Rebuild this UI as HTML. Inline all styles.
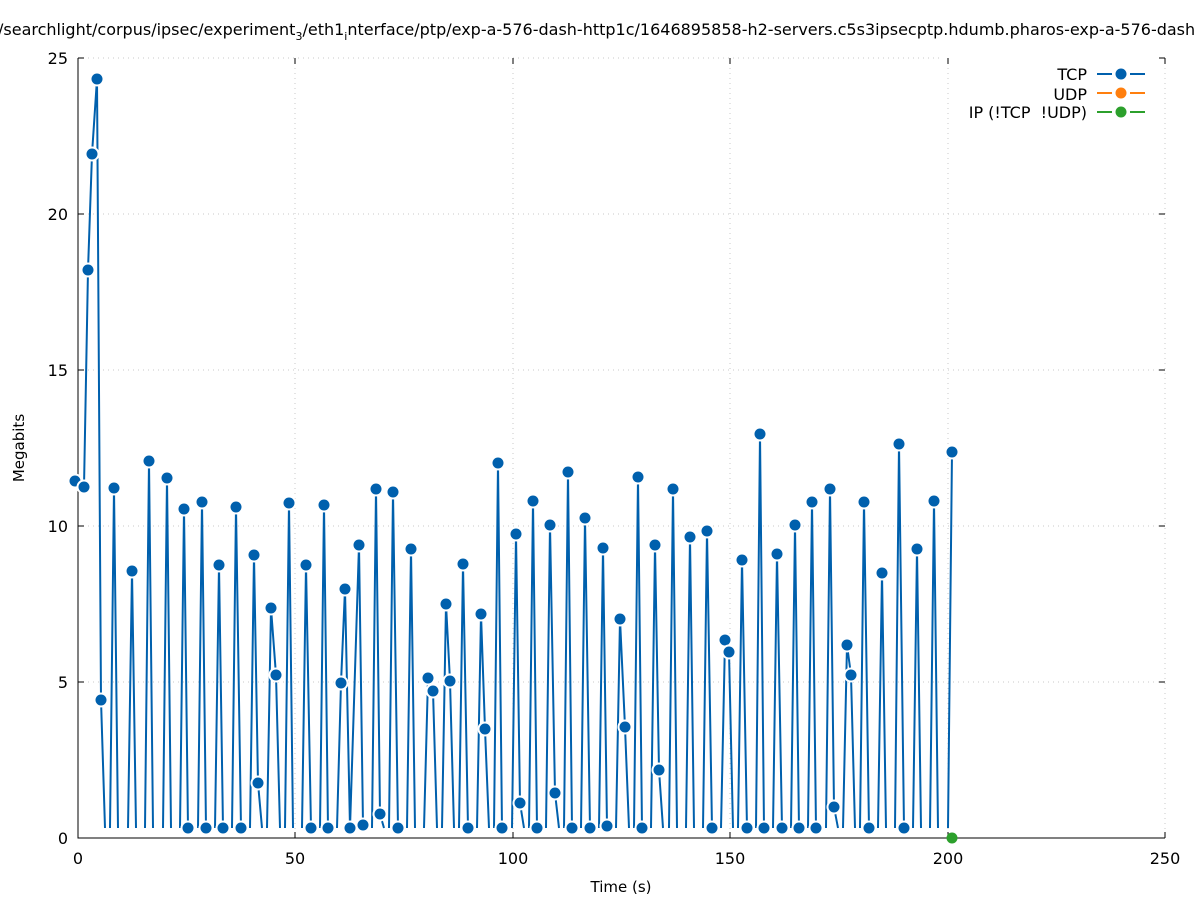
<!DOCTYPE html>
<html><head><meta charset="utf-8"><style>
html,body{margin:0;padding:0;background:#fff;}
svg{display:block;font-family:"DejaVu Sans","Liberation Sans",sans-serif;}
</style></head><body>
<svg id="s" width="1197" height="900" viewBox="0 0 1197 900" xmlns="http://www.w3.org/2000/svg">
<rect width="1197" height="900" fill="#fff"/>
<text x="-2" y="35" font-size="16" fill="#000">/searchlight/corpus/ipsec/experiment<tspan font-size="11" dy="5">3</tspan><tspan dy="-5">/eth1</tspan><tspan font-size="11" dy="5">i</tspan><tspan dy="-5">nterface/ptp/exp-a-576-dash-http1c/1646895858-h2-servers.c5s3ipsecptp.hdumb.pharos-exp-a-576-dash</tspan></text>
<g stroke="#c8c8c8" stroke-width="1" stroke-dasharray="1,4">
<line x1="295" y1="58" x2="295" y2="838"/><line x1="513" y1="58" x2="513" y2="838"/>
<line x1="730" y1="58" x2="730" y2="838"/><line x1="948" y1="58" x2="948" y2="838"/>
<line x1="78" y1="682" x2="1165" y2="682"/><line x1="78" y1="526" x2="1165" y2="526"/>
<line x1="78" y1="370" x2="1165" y2="370"/><line x1="78" y1="214" x2="1165" y2="214"/>
<line x1="78" y1="58" x2="940" y2="58"/><line x1="1165" y1="58" x2="1165" y2="838"/>
</g>
<g stroke="#000" stroke-width="1" fill="none">
<path d="M78,58 V838 H1165"/>
<path d="M295,838v-6M513,838v-6M730,838v-6M948,838v-6M1165,838v-6M295,58v6M513,58v6M730,58v6M948,58v6M78,58v6M1165,58v6"/>
<path d="M78,682h6M78,526h6M78,370h6M78,214h6M78,58h6M1165,682h-6M1165,526h-6M1165,370h-6M1165,214h-6M1165,58h-6"/>
</g>
<g font-size="16" fill="#000" text-anchor="end">
<text x="68" y="844">0</text><text x="68" y="688">5</text><text x="68" y="532">10</text>
<text x="68" y="376">15</text><text x="68" y="220">20</text><text x="68" y="64">25</text>
</g>
<g font-size="16" fill="#000" text-anchor="middle">
<text x="78" y="864">0</text><text x="295" y="864">50</text><text x="513" y="864">100</text>
<text x="730" y="864">150</text><text x="948" y="864">200</text><text x="1165" y="864">250</text>
<text x="621" y="892" font-size="15">Time (s)</text>
</g>
<text transform="translate(24,448) rotate(-90)" font-size="15" text-anchor="middle">Megabits</text>
<g id="data"></g>
<circle cx="952" cy="838" r="5.5" fill="#2ca02c"/>
<rect x="950" y="62" width="212" height="60" fill="#fff"/>
<g font-size="16" text-anchor="end">
<text x="1087" y="80">TCP</text><text x="1087" y="100">UDP</text><text x="1087" y="118">IP (!TCP&#160;&#160;!UDP)</text>
</g>
<g stroke-width="2">
<path d="M1097,74h15M1130,74h15" stroke="#0060ad"/><circle cx="1121" cy="74" r="5.5" fill="#0060ad"/>
<path d="M1097,93h15M1130,93h15" stroke="#ff7f0e"/><circle cx="1121" cy="93" r="5.5" fill="#ff7f0e"/>
<path d="M1097,112h15M1130,112h15" stroke="#2ca02c"/><circle cx="1121" cy="112" r="5.5" fill="#2ca02c"/>
</g>
</svg>
<script>
var P=[[75,481],[84,487],[88,270],[92,154],[97,79],[101,700],[114,488],[132,571],[149,461],[167,478],[184,509],[188,828],[202,502],[206,828],[219,565],[223,828],[236,507],[241,828],[254,555],[258,783],[271,608],[276,675],[289,503],[306,565],[311,828],[324,505],[328,828],[341,683],[345,589],[350,828],[359,545],[363,825],[376,489],[380,814],[393,492],[398,828],[411,549],[428,678],[433,691],[446,604],[450,681],[463,564],[468,828],[481,614],[485,729],[498,463],[502,828],[516,534],[520,803],[533,501],[537,828],[550,525],[555,793],[568,472],[572,828],[585,518],[590,828],[603,548],[607,826],[620,619],[625,727],[638,477],[642,828],[655,545],[659,770],[673,489],[690,537],[707,531],[712,828],[725,640],[729,652],[742,560],[747,828],[760,434],[764,828],[777,554],[782,828],[795,525],[799,828],[812,502],[816,828],[830,489],[834,807],[847,645],[851,675],[864,502],[869,828],[882,573],[899,444],[904,828],[917,549],[934,501],[952,452]];
var d="M"+P[0][0]+","+P[0][1];
for(var i=1;i<P.length;i++){var a=P[i-1],b=P[i];
 if(b[0]-a[0]<=10){d+="L"+b[0]+","+b[1];}
 else{ if(a[1]<826) d+="L"+(a[0]+4)+",828"; d+="M"+(b[0]-4)+",828L"+b[0]+","+b[1];}}
var s='<path d="'+d+'" fill="none" stroke="#0060ad" stroke-width="2" stroke-linejoin="round"/>';
for(var i=0;i<P.length;i++){s+='<circle cx="'+P[i][0]+'" cy="'+P[i][1]+'" r="7.5" fill="#fff"/><circle cx="'+P[i][0]+'" cy="'+P[i][1]+'" r="5.5" fill="#0060ad"/>';}
document.getElementById("data").innerHTML=s;
</script>
</body></html>
